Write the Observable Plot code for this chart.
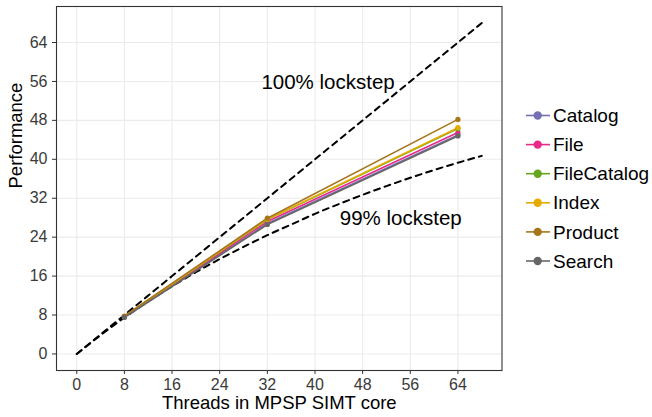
<!DOCTYPE html>
<html>
<head>
<meta charset="utf-8">
<script src="https://cdn.jsdelivr.net/npm/d3@7"></script>
<script src="https://cdn.jsdelivr.net/npm/@observablehq/plot@0.6"></script>
<style>
  html, body { margin: 0; padding: 0; background: #fff; }
  #chart { position: relative; width: 652px; height: 417px; font-family: "Liberation Sans", Arial, sans-serif; }
</style>
</head>
<body>
<div id="chart"></div>
<script>
const threads = [8, 32, 64];
const seriesNames = ["Catalog", "File", "FileCatalog", "Index", "Product", "Search"];
const seriesColors = ["#7570b3", "#e7298a", "#66a61e", "#e6ab02", "#a6761d", "#666666"];
const catalog     = [7.7, 26.8, 45.0];
const file        = [7.7, 27.2, 45.5];
const fileCatalog = [7.7, 27.6, 46.3];
const index       = [7.7, 27.7, 46.5];
const product     = [7.8, 27.9, 48.2];
const search      = [7.5, 26.6, 44.8];
const seriesValues = [catalog, file, fileCatalog, index, product, search];

const refX    = [0, 4, 8, 12, 16, 20, 24, 28, 32, 36, 40, 44, 48, 52, 56, 60, 64, 68];
const ref100  = [0, 4, 8, 12, 16, 20, 24, 28, 32, 36, 40, 44, 48, 52, 56, 60, 64, 68];
const ref99   = [0, 3.85, 7.48, 10.8, 13.9, 16.8, 19.5, 22.0, 24.4, 26.6, 28.8, 30.8, 32.7, 34.5, 36.2, 37.8, 39.3, 40.7];
const refLabels = ["100% lockstep", "99% lockstep"];
const refLabelX = [42.2, 54.4];
const refLabelY = [55.8, 27.9];

const ticks = [0, 8, 16, 24, 32, 40, 48, 56, 64];

const rows = [];
seriesNames.forEach((name, i) => threads.forEach((t, j) => rows.push({series: name, x: t, y: seriesValues[i][j]})));
const ref = [];
refX.forEach((x, i) => { ref.push({curve: "100", x, y: ref100[i]}); ref.push({curve: "99", x, y: ref99[i]}); });
const labels = refLabels.map((t, i) => ({text: t, x: refLabelX[i], y: refLabelY[i]}));

const plot = Plot.plot({
  width: 652,
  height: 417,
  marginLeft: 56,
  marginRight: 150.5,
  marginTop: 6,
  marginBottom: 47,
  style: {fontFamily: "'Liberation Sans', Arial, sans-serif", fontSize: "16px", background: "#fff"},
  x: {domain: [-3.4, 71.4], ticks: ticks, label: null},
  y: {domain: [-3.4, 71.4], ticks: ticks, label: null},
  color: {domain: seriesNames, range: seriesColors},
  marks: [
    Plot.gridX(ticks, {stroke: "#ebebeb", strokeOpacity: 1, strokeWidth: 1.1}),
    Plot.gridY(ticks, {stroke: "#ebebeb", strokeOpacity: 1, strokeWidth: 1.1}),
    Plot.axisX(ticks, {tickSize: 4, tickPadding: 4, fontSize: 16, fill: "#3a3a3a", stroke: "#333", label: null}),
    Plot.axisY(ticks, {tickSize: 4, tickPadding: 5, fontSize: 16, fill: "#3a3a3a", stroke: "#333", label: null}),
    Plot.line(ref, {x: "x", y: "y", z: "curve", stroke: "#000", strokeWidth: 2, strokeDasharray: "6,5", curve: "monotone-x"}),
    Plot.line(rows, {x: "x", y: "y", z: "series", stroke: "series", strokeWidth: 1.6}),
    Plot.dot(rows, {x: "x", y: "y", fill: "series", r: 2.6}),
    Plot.text(labels, {x: "x", y: "y", text: "text", fontSize: 20.5, fill: "#000"}),
    Plot.frame({stroke: "#333", strokeWidth: 1.1}),
    Plot.text(["Threads in MPSP SIMT core"], {frameAnchor: "bottom", lineAnchor: "middle", dy: 33, fontSize: 18.5, fill: "#000"}),
    Plot.text(["Performance"], {frameAnchor: "left", dx: -40, rotate: -90, fontSize: 18.5, fill: "#000"})
  ]
});
document.getElementById("chart").appendChild(plot);

// legend
const svg = d3.select(plot);
const lg = svg.append("g").attr("font-family", "'Liberation Sans', Arial, sans-serif").attr("text-anchor", "start");
seriesNames.forEach((name, i) => {
  const y = 115.5 + i * 29.1;
  lg.append("line").attr("x1", 526).attr("x2", 550).attr("y1", y).attr("y2", y)
    .attr("stroke", seriesColors[i]).attr("stroke-width", 1.6);
  lg.append("circle").attr("cx", 537.7).attr("cy", y).attr("r", 4.2).attr("fill", seriesColors[i]);
  lg.append("text").attr("x", 553).attr("y", y).attr("dy", "0.35em").attr("text-anchor", "start")
    .attr("font-size", 19).attr("fill", "#000").text(name);
});
</script>
</body>
</html>
